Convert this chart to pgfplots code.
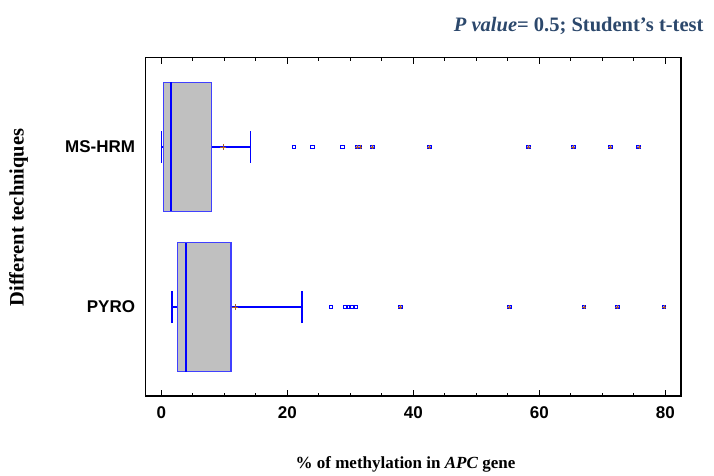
\documentclass[border=0pt]{standalone}
\usepackage{fontspec}
\setmainfont{Liberation Serif}
\newfontfamily\arial{Liberation Sans}
\usepackage{pgfplots}
\pgfplotsset{compat=1.18}
\usepgfplotslibrary{statistics}
\definecolor{boxgray}{RGB}{192,192,192}
\definecolor{titleblue}{RGB}{44,72,108}
\definecolor{meanbrown}{RGB}{176,96,40}
\begin{document}
\begin{tikzpicture}[x=1pt,y=1pt]
\useasboundingbox (0,0) rectangle (714,476);
\begin{axis}[
  at={(145.7pt,80pt)}, anchor=south west,
  scale only axis, width=535.3pt, height=338.3pt,
  xmin=-2.5, xmax=82.5, ymin=0.444, ymax=2.558,
  xtick={0,20,40,60,80}, minor x tick num=3,
  ytick={1,2}, yticklabels={PYRO,MS-HRM},
  tick align=inside, xtick pos=both, xticklabel pos=bottom,
  major tick length=6pt, minor tick length=3pt,
  x tick style={black, line width=1pt},
  y tick style={draw=none},
  axis line style={black, line width=1.1pt},
  /pgf/number format/assume math mode=true,
  xticklabel style={font=\arial\bfseries\fontsize{17}{17}\selectfont, inner sep=0pt, yshift=-10.5pt},
  yticklabel style={font=\arial\bfseries\fontsize{17}{17}\selectfont, inner sep=0pt, xshift=-10.5pt},
  clip=false,
]
% MS-HRM
\addplot[boxplot prepared={draw direction=x, lower whisker=0, lower quartile=0.30, median=1.48, upper quartile=7.92, upper whisker=14.12, draw position=2, box extend=0.806, whisker extend=0.2},
  draw=blue!75, fill=boxgray, line width=1.1pt,
  boxplot/every median/.style={draw=blue, line width=2pt},
  boxplot/every whisker/.style={draw=blue, line width=1.5pt}] coordinates {};
% PYRO
\addplot[boxplot prepared={draw direction=x, lower whisker=1.68, lower quartile=2.52, median=3.91, upper quartile=11.05, upper whisker=22.28, draw position=1, box extend=0.806, whisker extend=0.2},
  draw=blue!75, fill=boxgray, line width=1.1pt,
  boxplot/every median/.style={draw=blue, line width=2pt},
  boxplot/every whisker/.style={draw=blue, line width=1.5pt}] coordinates {};
% means
\addplot[only marks, mark=+, mark size=3pt, draw=meanbrown, line width=0.7pt] coordinates {(9.83,2) (11.69,1)};
% outside points
\addplot[only marks, mark=square, mark size=1.9pt, draw=blue, line width=0.9pt, mark options={fill=white}] coordinates {
 (21.05,2) (24.0,2) (28.7,2)
 (26.9,1) (29.2,1) (29.7,1) (30.2,1) (30.9,1)};
% far outside points
\addplot[only marks, mark=square*, mark size=1.9pt, draw=blue, line width=0.9pt, mark options={fill=blue!40}] coordinates {
 (31.1,2) (31.5,2) (33.5,2) (42.5,2) (58.3,2) (65.4,2) (71.3,2) (75.8,2)
 (37.9,1) (55.2,1) (67.1,1) (72.4,1) (79.8,1)};
\addplot[only marks, mark=+, mark size=2pt, draw=meanbrown, line width=0.6pt] coordinates {
 (31.1,2) (31.5,2) (33.5,2) (42.5,2) (58.3,2) (65.4,2) (71.3,2) (75.8,2)
 (37.9,1) (55.2,1) (67.1,1) (72.4,1) (79.8,1)};
\end{axis}
\node[anchor=base east, text=titleblue, font=\bfseries\fontsize{20.5}{20.5}\selectfont] at (707,444) {\textit{P value}= 0.5; Student’s t-test};
\node[anchor=base, font=\bfseries\fontsize{17}{17}\selectfont] at (405.5,7) {\% of methylation in \textit{APC} gene};
\node[anchor=base, rotate=90, font=\bfseries\fontsize{20.5}{20.5}\selectfont] at (23.5,258.5) {Different techniques};
\end{tikzpicture}
\end{document}
